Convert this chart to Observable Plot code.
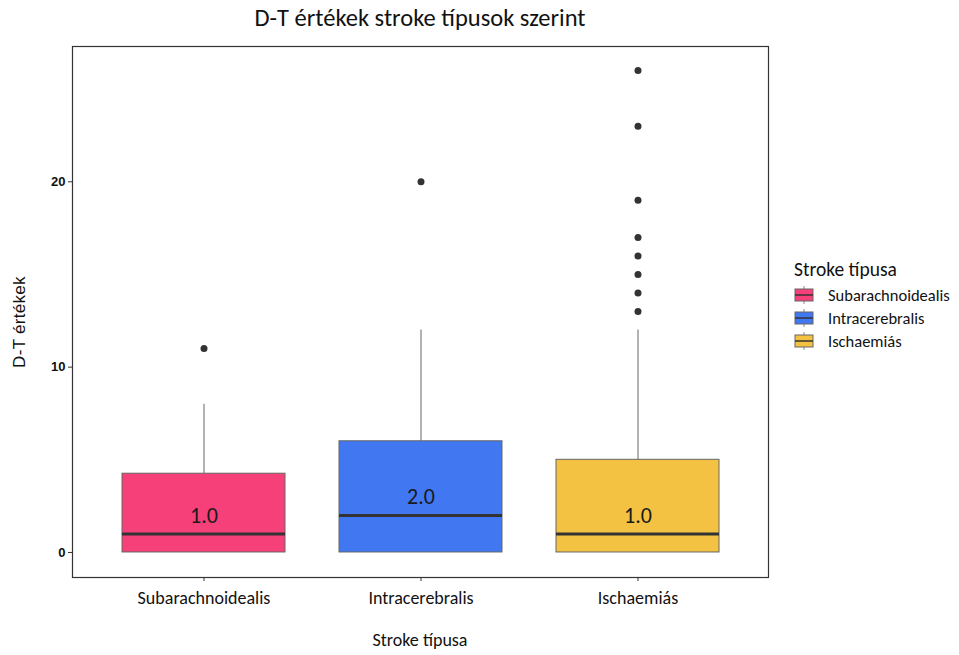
<!DOCTYPE html>
<html>
<head>
<meta charset="utf-8">
<script src="https://cdn.jsdelivr.net/npm/d3@7"></script>
<script src="https://cdn.jsdelivr.net/npm/@observablehq/plot@0.6"></script>
<style>
  html, body { margin: 0; padding: 0; background: #fff; }
  #wrap { position: relative; width: 959px; height: 655px; font-family: Carlito, Calibri, Lato, "Open Sans", sans-serif; }
  #title { position: absolute; left: 72px; width: 696px; top: 3px; text-align: center; font-size: 24.5px; color: #111; }
  #ylab { position: absolute; left: 20px; top: 322px; transform: translate(-50%, -50%) rotate(-90deg); font-family: "Liberation Sans", Arial, sans-serif; font-size: 17px; letter-spacing: 0.3px; color: #111; white-space: nowrap; }
  #xlab { position: absolute; left: 72px; width: 696px; top: 629px; text-align: center; font-size: 18px; color: #111; }
  #legend { position: absolute; left: 794px; top: 257px; color: #111; }
  #legend .lt { font-size: 19.5px; margin-bottom: 2px; }
  #legend .item { display: flex; align-items: center; height: 23px; font-size: 16.5px; }
  #legend svg { margin-right: 14px; }
</style>
</head>
<body>
<div id="wrap">
  <div id="chart"></div>
  <div id="title"></div>
  <div id="ylab"></div>
  <div id="xlab"></div>
  <div id="legend"></div>
</div>
<script>
// ---- data ----
const titleText = "D-T értékek stroke típusok szerint";
const yLabel = "D-T értékek";
const xLabel = "Stroke típusa";
const categories = ["Subarachnoidealis", "Intracerebralis", "Ischaemiás"];
const colors = ["#F5407A", "#4277F2", "#F3C242"];
const lowWhisker = [0, 0, 0];
const q1 = [0, 0, 0];
const medians = [1, 2, 1];
const q3 = [4.25, 6, 5];
const highWhisker = [8, 12, 12];
const outlierCategory = ["Subarachnoidealis", "Intracerebralis",
  "Ischaemiás", "Ischaemiás", "Ischaemiás", "Ischaemiás", "Ischaemiás", "Ischaemiás", "Ischaemiás", "Ischaemiás"];
const outlierValues = [11, 20, 13, 14, 15, 16, 17, 19, 23, 26];
const yTicks = [0, 10, 20];

const stats = categories.map((c, i) => ({
  cat: c, lo: lowWhisker[i], q1: q1[i], median: medians[i], q3: q3[i], hi: highWhisker[i]
}));
const outliers = outlierValues.map((v, i) => ({cat: outlierCategory[i], v}));

const plot = Plot.plot({
  width: 959,
  height: 655,
  marginLeft: 72,
  marginRight: 191,
  marginTop: 46,
  marginBottom: 78,
  style: {fontFamily: "Carlito, Calibri, Lato, 'Open Sans', sans-serif", background: "#fff", color: "#111"},
  x: {domain: categories, paddingInner: 0.25, paddingOuter: 0.225, label: null},
  y: {domain: [-1.35, 27.3], label: null},
  color: {domain: categories, range: colors},
  marks: [
    Plot.ruleX(stats, {x: "cat", y1: "q3", y2: "hi", stroke: "#8a8a8a", strokeWidth: 1.3}),
    Plot.ruleX(stats, {x: "cat", y1: "lo", y2: "q1", stroke: "#8a8a8a", strokeWidth: 1.3}),
    Plot.barY(stats, {x: "cat", y1: "q1", y2: "q3", fill: "cat", stroke: "#666", strokeWidth: 1}),
    Plot.tickY(stats, {x: "cat", y: "median", stroke: "#333", strokeWidth: 3}),
    Plot.text(stats, {x: "cat", y: "median", text: d => d.median.toFixed(1), dy: -18, fontSize: 22, fill: "#1a1a1a"}),
    Plot.dot(outliers, {x: "cat", y: "v", r: 3.5, fill: "#333", stroke: null}),
    Plot.axisY({ticks: yTicks, tickSize: 4, tickPadding: 3, fontSize: 13, fontWeight: "bold", fontFamily: "'Liberation Sans', Arial, sans-serif", label: null, stroke: "#333"}),
    Plot.axisX({tickSize: 4, tickPadding: 10, fontSize: 18, label: null, stroke: "#333"}),
    Plot.frame({stroke: "#333", strokeWidth: 1.2})
  ]
});
document.getElementById("chart").appendChild(plot);

document.getElementById("title").textContent = titleText;
document.getElementById("ylab").textContent = yLabel;
document.getElementById("xlab").textContent = xLabel;

const legend = document.getElementById("legend");
const lt = document.createElement("div");
lt.className = "lt";
lt.textContent = xLabel;
legend.appendChild(lt);
categories.forEach((c, i) => {
  const item = document.createElement("div");
  item.className = "item";
  const svg = d3.create("svg").attr("width", 20).attr("height", 20);
  svg.append("line").attr("x1", 10).attr("x2", 10).attr("y1", 1).attr("y2", 19).attr("stroke", "#888");
  svg.append("rect").attr("x", 1).attr("y", 4).attr("width", 18).attr("height", 12).attr("fill", colors[i]).attr("stroke", "#666");
  svg.append("line").attr("x1", 1).attr("x2", 19).attr("y1", 10).attr("y2", 10).attr("stroke", "#333").attr("stroke-width", 1.5);
  item.appendChild(svg.node());
  const s = document.createElement("span");
  s.textContent = c;
  item.appendChild(s);
  legend.appendChild(item);
});
</script>
</body>
</html>
